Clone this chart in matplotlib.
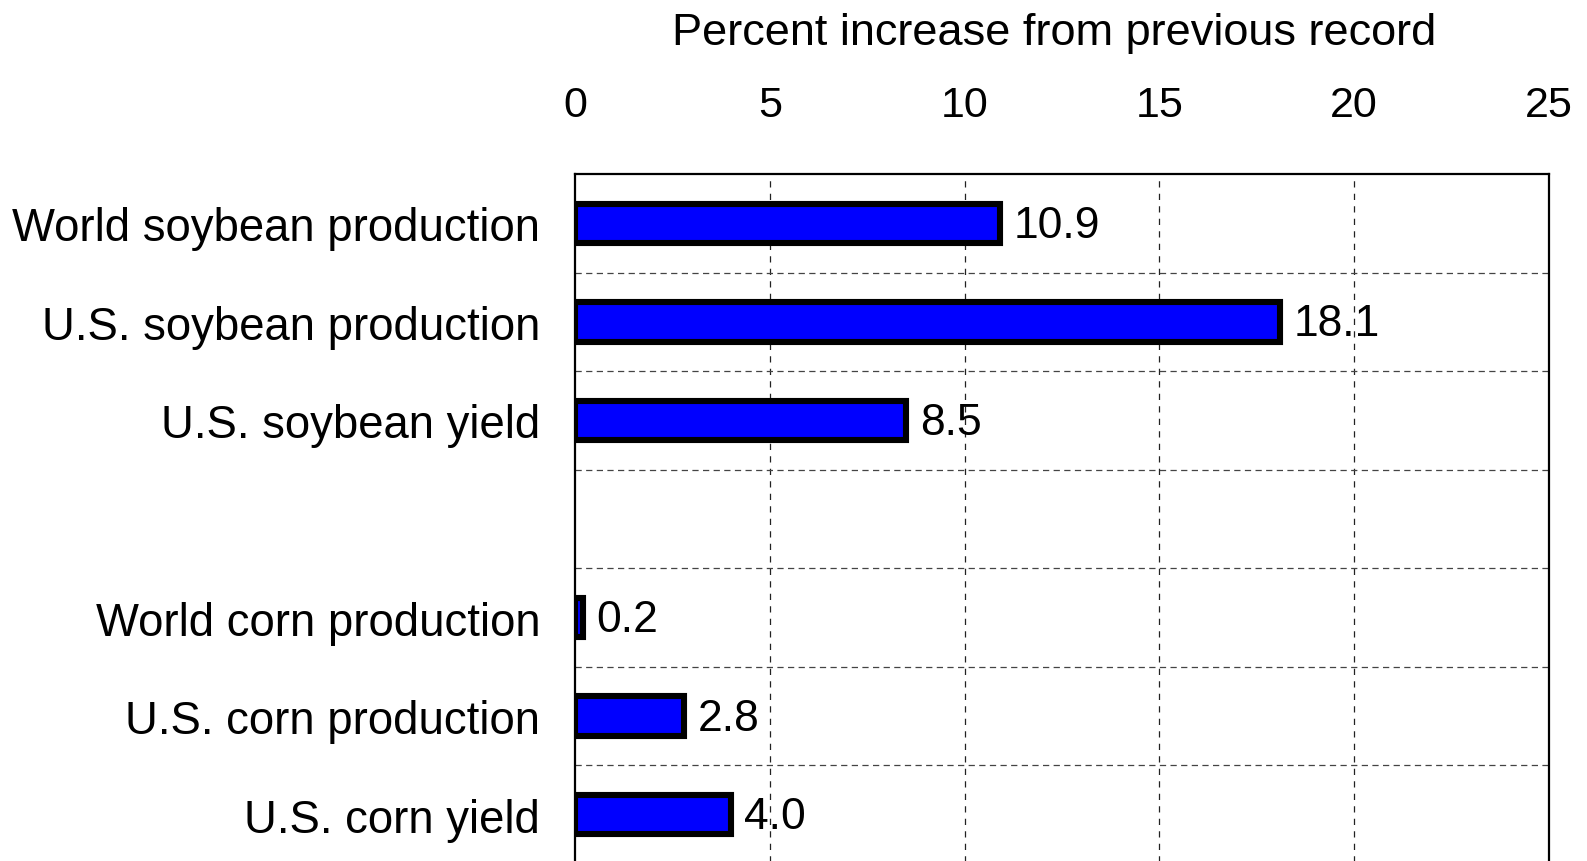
import numpy as np
import matplotlib as mpl
mpl.use('Agg')
import matplotlib.pyplot as plt

plt.rcParams['font.family'] = ['Liberation Sans', 'DejaVu Sans']

labels = ['World soybean production', 'U.S. soybean production', 'U.S. soybean yield',
          '', 'World corn production', 'U.S. corn production', 'U.S. corn yield']
values = [10.9, 18.1, 8.5, None, 0.2, 2.8, 4.0]
x_ticks = [0, 5, 10, 15, 20, 25]

fig = plt.figure(figsize=(15.87, 8.62), dpi=100)
ax = fig.add_axes([0.3623, -0.0035, 0.6137, 0.8005])

pos = np.arange(len(labels))
for p, v in zip(pos, values):
    if v is None:
        continue
    ax.barh(p, v, height=0.4, color='#0000ff', edgecolor='black', linewidth=4.4, zorder=3)
    ax.text(v + 0.35, p + 0.02, f'{v:.1f}', va='center', ha='left', fontsize=32, zorder=4)

ax.set_xlim(0, 25)
ax.set_ylim(len(labels) - 0.5, -0.5)
ax.set_xticks(x_ticks)
ax.set_yticks(pos)
ax.set_yticklabels(labels)
ax.xaxis.tick_top()
ax.xaxis.set_label_position('top')
ax.set_xlabel('Percent increase from previous record', fontsize=32.5, labelpad=30)
ax.xaxis.label.set_x(0.4917)
ax.tick_params(axis='x', length=0, pad=35, labelsize=31)
ax.tick_params(axis='y', length=0, pad=25, labelsize=32.8)

for xv in x_ticks[1:-1]:
    ax.axvline(xv, color='#222222', lw=0.9, ls=(0, (5, 5)), zorder=1)
for yb in pos[:-1] + 0.5:
    ax.axhline(yb, color='#444444', lw=0.9, ls=(0, (5, 3.5)), zorder=1)

for s in ax.spines.values():
    s.set_linewidth(1.6)

fig.savefig('out.png', dpi=100)
